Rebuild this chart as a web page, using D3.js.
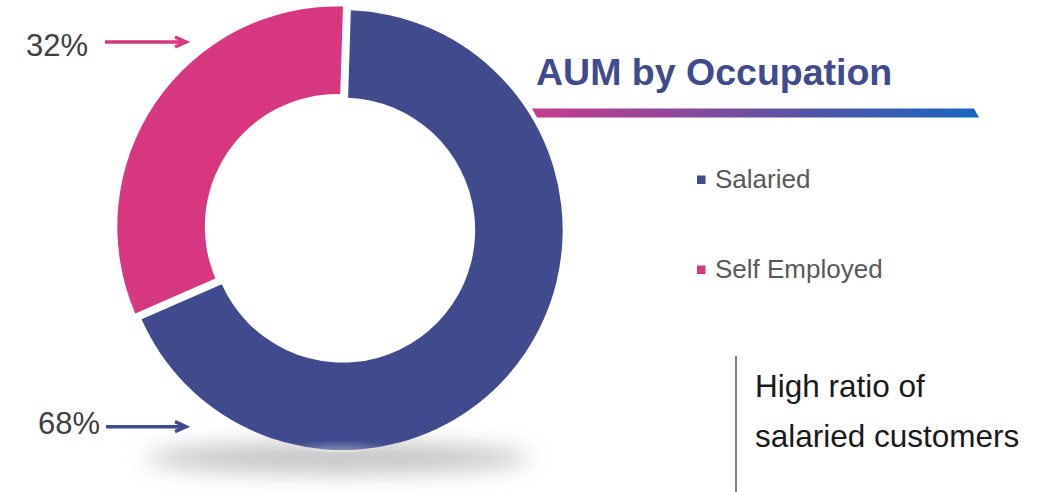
<!DOCTYPE html>
<html>
<head>
<meta charset="utf-8">
<script src="https://cdn.jsdelivr.net/npm/d3@7"></script>
<style>
  html, body { margin: 0; padding: 0; background: #ffffff; }
  svg { display: block; font-family: "Liberation Sans", Arial, sans-serif; }
</style>
</head>
<body>
<svg id="chart" width="1039" height="492"></svg>
<script>
// ---- data ----
const categories = ["Salaried", "Self Employed"];
const values = [68, 32];
const valueLabels = ["68%", "32%"];
const colors = ["#3F4B8C", "#D63780"];
const title = "AUM by Occupation";
const noteLines = ["High ratio of", "salaried customers"];

// ---- layout ----
const W = 1039, H = 492;
const cx = 340, cy = 228.3;
const outerR = 220, innerR = 132.5;
const explode = 3.2;
const rotation = 1.8 * Math.PI / 180;

const svg = d3.select("#chart");
const defs = svg.append("defs");

// shadow blur
const blur = defs.append("filter").attr("id", "blur")
  .attr("x", "-50%").attr("y", "-300%").attr("width", "200%").attr("height", "700%");
blur.append("feGaussianBlur").attr("stdDeviation", 11);

// title bar gradient
const lg = defs.append("linearGradient").attr("id", "barGrad")
  .attr("x1", "0%").attr("x2", "100%").attr("y1", "0%").attr("y2", "0%");
lg.append("stop").attr("offset", "0%").attr("stop-color", "#C63A8E");
lg.append("stop").attr("offset", "35%").attr("stop-color", "#8A479E");
lg.append("stop").attr("offset", "65%").attr("stop-color", "#4D55A8");
lg.append("stop").attr("offset", "100%").attr("stop-color", "#1467C2");

// bottom highlight
const rg = defs.append("radialGradient").attr("id", "hl")
  .attr("cx", "50%").attr("cy", "50%").attr("r", "50%");
rg.append("stop").attr("offset", "0%").attr("stop-color", "#ffffff").attr("stop-opacity", 0.6);
rg.append("stop").attr("offset", "100%").attr("stop-color", "#ffffff").attr("stop-opacity", 0);

// ---- shadow ----
svg.append("ellipse")
  .attr("cx", cx - 2).attr("cy", 458)
  .attr("rx", 192).attr("ry", 15)
  .attr("fill", "#c2c2c2")
  .attr("filter", "url(#blur)");

// ---- donut ----
const pie = d3.pie().sort(null).value(d => d)
  .startAngle(rotation).endAngle(rotation + 2 * Math.PI)
  .padAngle(0.01);
const arc = d3.arc().innerRadius(innerR).outerRadius(outerR);
const arcs = pie(values);

const g = svg.append("g").attr("transform", `translate(${cx},${cy})`);
g.selectAll("path.slice")
  .data(arcs)
  .join("path")
  .attr("class", "slice")
  .attr("fill", (d, i) => colors[i])
  .attr("transform", d => {
    const a = (d.startAngle + d.endAngle) / 2;
    return `translate(${explode * Math.sin(a)},${-explode * Math.cos(a)})`;
  })
  .attr("d", arc);

// soft highlight at bottom of the ring
const clip = defs.append("clipPath").attr("id", "ringClip");
clip.append("path")
  .attr("transform", `translate(${cx},${cy})`)
  .attr("d", d3.arc().innerRadius(innerR).outerRadius(outerR + 4)({startAngle: 0, endAngle: 2 * Math.PI}));
svg.append("ellipse")
  .attr("clip-path", "url(#ringClip)")
  .attr("cx", cx).attr("cy", 458)
  .attr("rx", 75).attr("ry", 18)
  .attr("fill", "url(#hl)");

// ---- percentage labels with arrows ----
const labelPos = [
  { tx: 38, ty: 434, x1: 106, x2: 186, y: 426.7 },  // 68%
  { tx: 26, ty: 56, x1: 105, x2: 186, y: 42 }        // 32%
];
arcs.forEach((d, i) => {
  const p = labelPos[i];
  svg.append("text")
    .attr("x", p.tx).attr("y", p.ty)
    .attr("font-size", 31)
    .attr("fill", "#404040")
    .text(valueLabels[i]);
  svg.append("line")
    .attr("x1", p.x1).attr("x2", p.x2 - 2)
    .attr("y1", p.y).attr("y2", p.y)
    .attr("stroke", colors[i]).attr("stroke-width", 3.5);
  svg.append("path")
    .attr("d", `M${p.x2 - 11},${p.y - 5} L${p.x2},${p.y} L${p.x2 - 11},${p.y + 5}`)
    .attr("fill", "none")
    .attr("stroke", colors[i]).attr("stroke-width", 3.5)
    .attr("stroke-linejoin", "miter");
});

// ---- title ----
svg.append("text")
  .attr("x", 536).attr("y", 85)
  .attr("font-size", 37.5).attr("font-weight", "bold")
  .attr("fill", "#3F4B8C")
  .text(title);

svg.append("path")
  .attr("d", "M532,108.5 L974,108.5 L979,117.5 L537,117.5 Z")
  .attr("fill", "url(#barGrad)");

// ---- legend ----
const legendY = [180, 270];
categories.forEach((c, i) => {
  svg.append("rect")
    .attr("x", 697).attr("y", legendY[i] - 4.5)
    .attr("width", 8.5).attr("height", 8.5)
    .attr("fill", colors[i]);
  svg.append("text")
    .attr("x", 715).attr("y", legendY[i] + 8)
    .attr("font-size", 26)
    .attr("fill", "#595959")
    .text(c);
});

// ---- note ----
svg.append("line")
  .attr("x1", 736).attr("x2", 736)
  .attr("y1", 356).attr("y2", 492)
  .attr("stroke", "#555").attr("stroke-width", 1.5);
noteLines.forEach((t, i) => {
  svg.append("text")
    .attr("x", 755).attr("y", 397 + i * 50)
    .attr("font-size", 31.5)
    .attr("fill", "#1a1a1a")
    .text(t);
});
</script>
</body>
</html>
